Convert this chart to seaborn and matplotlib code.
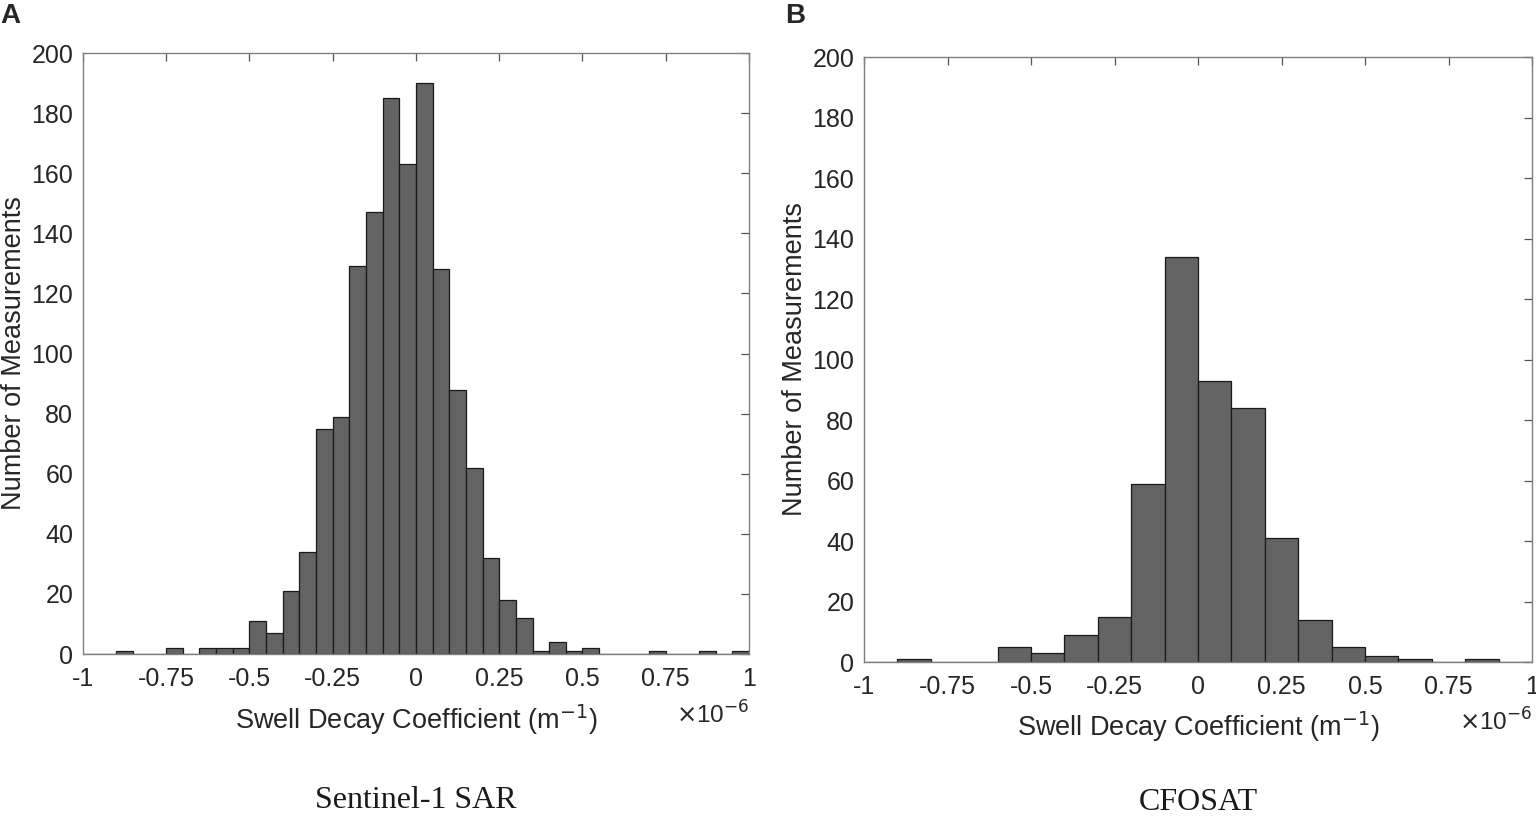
import numpy as np
import pandas as pd
import matplotlib
matplotlib.use("Agg")
import matplotlib.pyplot as plt
import seaborn as sns

# Sentinel-1 SAR histogram, bins of 0.05e-6 from -1e-6 to 1e-6
sar_edges = np.round(np.arange(-1.0, 1.0001, 0.05), 3)
sar_counts = [0, 0, 1, 0, 0, 2, 0, 2, 2, 2,
              11, 7, 21, 34, 75, 79, 129, 147, 185, 163,
              190, 128, 88, 62, 32, 18, 12, 1, 4, 1,
              2, 0, 0, 0, 1, 0, 0, 1, 0, 1]

# CFOSAT histogram, bins of 0.1e-6
cfo_edges = np.round(np.arange(-1.0, 1.0001, 0.1), 3)
cfo_counts = [0, 1, 0, 0, 5, 3, 9, 15, 59, 134,
              93, 84, 41, 14, 5, 2, 1, 0, 1, 0]

xticks = [-1, -0.75, -0.5, -0.25, 0, 0.25, 0.5, 0.75, 1]
xticklabels = ["-1", "-0.75", "-0.5", "-0.25", "0", "0.25", "0.5", "0.75", "1"]
yticks = list(range(0, 201, 20))

sns.set_style("white")
plt.rcParams["font.family"] = ["Liberation Sans", "DejaVu Sans"]

fig = plt.figure(figsize=(15.36, 8.16), dpi=100)
ax1 = fig.add_axes([0.0540, 0.1985, 0.4336, 0.7365])
ax2 = fig.add_axes([0.5625, 0.1887, 0.4349, 0.7414])


def draw(ax, edges, counts, caption, xlab_y, cap_y):
    centers = (edges[:-1] + edges[1:]) / 2
    df = pd.DataFrame({"x": centers, "n": counts})
    sns.histplot(data=df, x="x", weights="n", bins=list(edges), ax=ax,
                 color="#636363", alpha=1, edgecolor="#1a1a1a", linewidth=0.9)
    ax.set_xlim(-1, 1)
    ax.set_ylim(0, 200)
    ax.set_xticks(xticks)
    ax.set_xticklabels(xticklabels)
    ax.set_yticks(yticks)
    ax.tick_params(direction="in", length=6, width=0.9, color="#555555",
                   labelsize=18, labelcolor="#262626", top=True, right=True,
                   labeltop=False, labelright=False)
    ax.tick_params(axis="x", pad=9)
    ax.tick_params(axis="y", pad=7)
    for s in ax.spines.values():
        s.set_color("#7f7f7f")
        s.set_linewidth(1.0)
        s.set_visible(True)
    ax.set_xlabel("Swell Decay Coefficient (m$^{-1}$)", fontsize=19.5,
                  color="#262626", va="center")
    ax.xaxis.set_label_coords(0.5, xlab_y)
    ax.set_ylabel("Number of Measurements", fontsize=19.5, color="#262626",
                  va="center")
    ax.yaxis.set_label_coords(-0.104, 0.5)
    ax.text(1.0, xlab_y + 0.008, r"$\times$10$^{-6}$", transform=ax.transAxes,
            ha="right", va="center", fontsize=17.5, color="#262626")
    ax.text(0.5, cap_y, caption, transform=ax.transAxes, ha="center",
            va="center", fontsize=23, family=["Liberation Serif", "DejaVu Serif"],
            color="#1a1a1a")
    return ax


draw(ax1, sar_edges, sar_counts, "Sentinel-1 SAR", -0.11, -0.243)
draw(ax2, cfo_edges, cfo_counts, "CFOSAT", -0.107, -0.233)

fig.text(0.0, 0.996, "A", ha="left", va="top", fontsize=20, fontweight="bold")
fig.text(0.511, 0.996, "B", ha="left", va="top", fontsize=20, fontweight="bold")

fig.savefig("out.png", dpi=100)
